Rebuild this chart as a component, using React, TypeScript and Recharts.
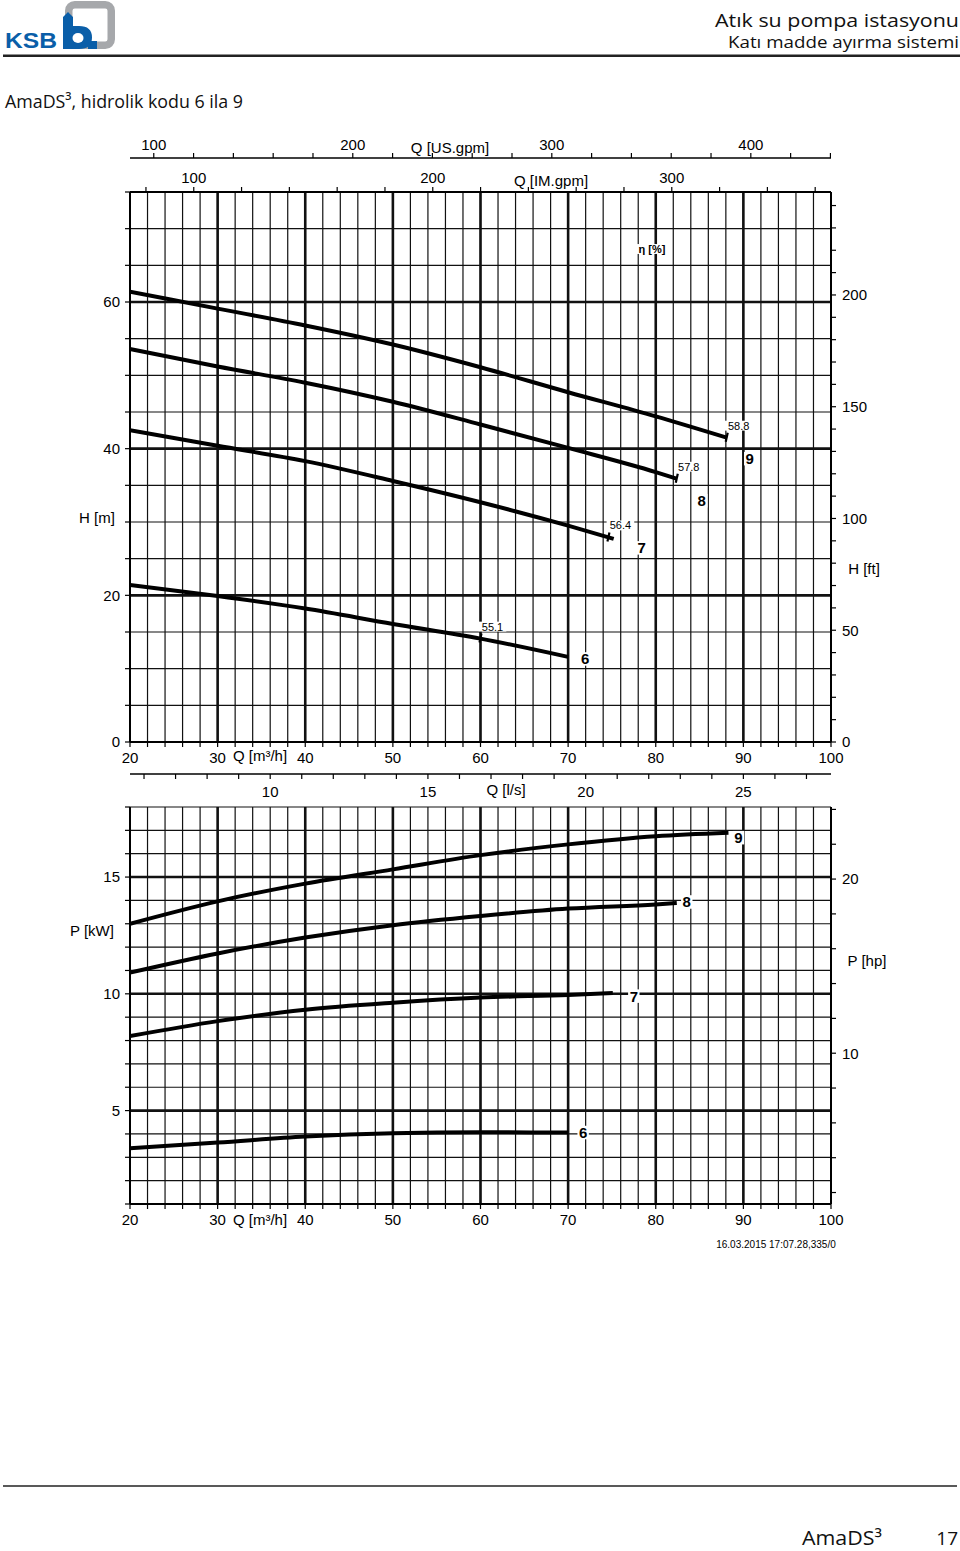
import React from 'react';
import {
  ComposedChart, Line, XAxis, YAxis, CartesianGrid, ReferenceDot,
} from 'recharts';

const FONT = '"Liberation Sans", Arial, sans-serif';
const HEAD_FONT = '"Open Sans", "Noto Sans", sans-serif';
const INK = '#111';

// unit factors against m³/h, m and kW
const US_GPM = 4.40287;
const IM_GPM = 3.66615;
const LS = 1 / 3.6;
const FT = 1 / 0.3048;
const HP = 1 / 0.7457;

// hydraulic codes
const CODES = ['6', '7', '8', '9'];

// Q-H curves, Q [m³/h] / H [m]
const H6_Q = [20, 30, 40, 50, 60, 70];
const H6 = [21.4, 19.9, 18.2, 16.1, 14.1, 11.6];
const H7_Q = [20, 30, 40, 50, 60, 70, 75.2];
const H7 = [42.5, 40.4, 38.3, 35.6, 32.7, 29.5, 27.7];
const H8_Q = [20, 30, 40, 50, 60, 70, 80, 82.4];
const H8 = [53.6, 51.2, 49.0, 46.4, 43.3, 40.1, 36.8, 35.9];
const H9_Q = [20, 30, 40, 50, 60, 70, 80, 88.1];
const H9 = [61.4, 59.1, 56.8, 54.2, 51.1, 47.7, 44.4, 41.5];

// efficiency marks on the Q-H curves
const ETA = ['55.1', '56.4', '57.8', '58.8'];
const ETA_Q = [60, 74.6, 82.4, 88.1];
const ETA_H = [14.1, 27.9, 35.9, 41.5];

// Q-P curves, Q [m³/h] / P [kW]
const P6_Q = [20, 30, 40, 50, 60, 70];
const P6 = [3.39, 3.63, 3.89, 4.03, 4.07, 4.06];
const P7_Q = [20, 30, 40, 50, 60, 70, 75.1];
const P7 = [8.19, 8.83, 9.32, 9.62, 9.84, 9.95, 10.03];
const P8_Q = [20, 30, 40, 50, 60, 70, 80, 82.4];
const P8 = [10.91, 11.73, 12.41, 12.94, 13.33, 13.65, 13.83, 13.89];
const P9_Q = [20, 30, 40, 50, 60, 70, 80, 88.3];
const P9 = [13.0, 13.96, 14.72, 15.33, 15.94, 16.4, 16.75, 16.9];

// tick labels
const Q_LABELS = [20, 30, 40, 50, 60, 70, 80, 90, 100];
const US_LABELS = [100, 200, 300, 400];
const IM_LABELS = [100, 200, 300];
const LS_LABELS = [10, 15, 20, 25];
const H_LABELS = [0, 20, 40, 60];
const FT_LABELS = [0, 50, 100, 150, 200];
const P_LABELS = [5, 10, 15];
const HP_LABELS = [10, 20];

const range = (a: number, b: number, s: number) => {
  const out: number[] = [];
  for (let v = a; v <= b + 1e-9; v += s) out.push(+v.toFixed(3));
  return out;
};

const Q_TICKS = range(20, 100, 2);
const US_TICKS = range(100, 440, 20);
const IM_TICKS = range(80, 360, 20);
const LS_TICKS = range(6, 27, 1);
const H_TICKS = range(0, 75, 5);
const FT_TICKS = range(0, 240, 10);
const P_TICKS = range(1, 18, 1);
const HP_TICKS = range(2, 24, 2);

const pts = (q: number[], v: number[]) => q.map((x, i) => ({ q: x, v: v[i] }));
const H_SERIES = [pts(H6_Q, H6), pts(H7_Q, H7), pts(H8_Q, H8), pts(H9_Q, H9)];
const P_SERIES = [pts(P6_Q, P6), pts(P7_Q, P7), pts(P8_Q, P8), pts(P9_Q, P9)];

// pixel offset of the code tag from the curve end
const H_TAG_OFF = [[17, 2], [28, 9], [25, 22], [23, 21]];
const P_TAG_OFF = [[15, 0], [21, 3], [10, -1], [10, 5]];

const fmt = (labels: number[]) => (v: number) => (labels.includes(v) ? String(v) : '');
const tickStyle = { fill: '#000', fontSize: 15, fontFamily: FONT };
const axisLine = { stroke: '#000', strokeWidth: 2 };
const thinAxis = { stroke: '#000', strokeWidth: 1.4 };
const tickLine = { stroke: '#000', strokeWidth: 1.2 };

const Tag = ({ cx, cy, text, dx, dy, size, bold }: any) => {
  const w = text.length * size * 0.56 + 3;
  const h = size * 0.9;
  const x = cx + dx;
  const y = cy + dy;
  return (
    <g>
      <rect x={x - w / 2} y={y - h / 2} width={w} height={h} fill="#fff" />
      <text x={x} y={y} textAnchor="middle" dominantBaseline="central" fontSize={size}
        fontWeight={bold ? 700 : 400} fontFamily={FONT} fill="#000">{text}</text>
    </g>
  );
};

const EtaMark = ({ cx, cy, text }: any) => (
  <g>
    <line x1={cx + 1} y1={cy - 5} x2={cx - 1} y2={cy + 4} stroke="#000" strokeWidth={2.2} />
    <Tag cx={cx} cy={cy} text={text} dx={12} dy={-12} size={11} />
  </g>
);

// axis ids sort so that the first one sits next to the plot
function HeadChart() {
  return (
    <ComposedChart width={960} height={680} margin={{ top: 10, right: 0, bottom: 1, left: 0 }}>
      <CartesianGrid xAxisId="b1_q" yAxisId="h" stroke={INK} strokeWidth={1.2} />
      <CartesianGrid xAxisId="b1_q" yAxisId="h" stroke={INK} strokeWidth={2.6}
        verticalValues={[30, 40, 50, 60, 70, 80, 90]} horizontalValues={[20, 40, 60]} />
      <XAxis xAxisId="t1_im" orientation="top" type="number" dataKey="q" domain={[20 * IM_GPM, 100 * IM_GPM]}
        allowDataOverflow ticks={IM_TICKS} interval={0} height={34} tickSize={5} tickMargin={4}
        tickFormatter={fmt(IM_LABELS)} tick={tickStyle} axisLine={axisLine} tickLine={tickLine} />
      <XAxis xAxisId="t2_us" orientation="top" type="number" dataKey="q" domain={[20 * US_GPM, 100 * US_GPM]}
        allowDataOverflow ticks={US_TICKS} interval={0} height={28} tickSize={5} tickMargin={3}
        tickFormatter={fmt(US_LABELS)} tick={tickStyle} axisLine={thinAxis} tickLine={tickLine} />
      <XAxis xAxisId="b1_q" orientation="bottom" type="number" dataKey="q" domain={[20, 100]}
        allowDataOverflow ticks={Q_TICKS} interval={0} height={32} tickSize={5} tickMargin={5}
        tickFormatter={fmt(Q_LABELS)} tick={tickStyle} axisLine={axisLine} tickLine={tickLine} />
      <XAxis xAxisId="b2_ls" orientation="bottom" type="number" dataKey="q" domain={[20 * LS, 100 * LS]}
        allowDataOverflow ticks={LS_TICKS} interval={0} height={25} tickSize={5} tickMargin={7}
        tickFormatter={fmt(LS_LABELS)} tick={tickStyle} axisLine={thinAxis} tickLine={tickLine} />
      <YAxis yAxisId="h" orientation="left" type="number" domain={[0, 75]} allowDataOverflow
        ticks={H_TICKS} interval={0} width={130} tickSize={5} tickMargin={5}
        tickFormatter={fmt(H_LABELS)} tick={tickStyle} axisLine={axisLine} tickLine={tickLine} />
      <YAxis yAxisId="ft" orientation="right" type="number" domain={[0, 75 * FT]} allowDataOverflow
        ticks={FT_TICKS} interval={0} width={129} tickSize={5} tickMargin={6}
        tickFormatter={fmt(FT_LABELS)} tick={{ ...tickStyle, textAnchor: 'start' }} axisLine={axisLine} tickLine={tickLine} />
      {H_SERIES.map((d, i) => (
        <Line key={CODES[i]} data={d} dataKey="v" xAxisId="b1_q" yAxisId="h" type="monotone"
          stroke="#000" strokeWidth={4} dot={false} isAnimationActive={false} />
      ))}
      {ETA.map((t, i) => (
        <ReferenceDot key={t} xAxisId="b1_q" yAxisId="h" x={ETA_Q[i]} y={ETA_H[i]} r={0} ifOverflow="visible"
          shape={(p: any) => <EtaMark cx={p.cx} cy={p.cy} text={t} />} />
      ))}
      {H_SERIES.map((d, i) => {
        const end = d[d.length - 1];
        return (
          <ReferenceDot key={'t' + i} xAxisId="b1_q" yAxisId="h" x={end.q} y={end.v} r={0} ifOverflow="visible"
            shape={(p: any) => <Tag cx={p.cx} cy={p.cy} text={CODES[i]} dx={H_TAG_OFF[i][0]} dy={H_TAG_OFF[i][1]} size={15} bold />} />
        );
      })}
    </ComposedChart>
  );
}

function PowerChart() {
  return (
    <ComposedChart width={960} height={440} margin={{ top: 7, right: 0, bottom: 4, left: 0 }}>
      <CartesianGrid xAxisId="q" yAxisId="p" stroke={INK} strokeWidth={1.2} />
      <CartesianGrid xAxisId="q" yAxisId="p" stroke={INK} strokeWidth={2.6}
        verticalValues={[30, 40, 50, 60, 70, 80, 90]} horizontalValues={[5, 10, 15]} />
      <XAxis xAxisId="q" orientation="bottom" type="number" dataKey="q" domain={[20, 100]}
        allowDataOverflow ticks={Q_TICKS} interval={0} height={32} tickSize={5} tickMargin={5}
        tickFormatter={fmt(Q_LABELS)} tick={tickStyle} axisLine={axisLine} tickLine={tickLine} />
      <YAxis yAxisId="p" orientation="left" type="number" domain={[1, 18]} allowDataOverflow
        ticks={P_TICKS} interval={0} width={130} tickSize={5} tickMargin={5}
        tickFormatter={fmt(P_LABELS)} tick={tickStyle} axisLine={axisLine} tickLine={tickLine} />
      <YAxis yAxisId="hp" orientation="right" type="number" domain={[1 * HP, 18 * HP]} allowDataOverflow
        ticks={HP_TICKS} interval={0} width={129} tickSize={5} tickMargin={6}
        tickFormatter={fmt(HP_LABELS)} tick={{ ...tickStyle, textAnchor: 'start' }} axisLine={axisLine} tickLine={tickLine} />
      {P_SERIES.map((d, i) => (
        <Line key={CODES[i]} data={d} dataKey="v" xAxisId="q" yAxisId="p" type="monotone"
          stroke="#000" strokeWidth={4} dot={false} isAnimationActive={false} />
      ))}
      {P_SERIES.map((d, i) => {
        const end = d[d.length - 1];
        return (
          <ReferenceDot key={'t' + i} xAxisId="q" yAxisId="p" x={end.q} y={end.v} r={0} ifOverflow="visible"
            shape={(p: any) => <Tag cx={p.cx} cy={p.cy} text={CODES[i]} dx={P_TAG_OFF[i][0]} dy={P_TAG_OFF[i][1]} size={15} bold />} />
        );
      })}
    </ComposedChart>
  );
}

const T = ({ x, y, children, size = 15, anchor = 'middle', weight = 400, family = FONT, fill = '#000' }: any) => (
  <text x={x} y={y} fontSize={size} textAnchor={anchor} fontWeight={weight} fontFamily={family} fill={fill}
    dominantBaseline="central">{children}</text>
);

export default function App() {
  return (
    <div style={{ position: 'absolute', left: 0, top: 0, width: 960, height: 1551, background: '#fff', overflow: 'hidden' }}>
      <div style={{ position: 'absolute', left: 0, top: 120 }}>
        <HeadChart />
      </div>
      <div style={{ position: 'absolute', left: 0, top: 800 }}>
        <PowerChart />
      </div>
      <svg width={960} height={1551} style={{ position: 'absolute', left: 0, top: 0, pointerEvents: 'none' }}>
        {/* logo */}
        <rect x={68.75} y={4.75} width={42.5} height={40.5} rx={6} fill="none" stroke="#a6a8ab" strokeWidth={7.5} />
        <path d="M63 49 L63 17 L68 12 L73 17 L73 26 L79 26 Q92 26 92 37.5 Q92 49 79 49 Z" fill="#0a5ea8" />
        <ellipse cx={78} cy={38} rx={5.5} ry={5} fill="#fff" />
        <rect x={88} y={41} width={9} height={8} fill="#0a5ea8" />
        <text x={5} y={48} fontSize={22} fontWeight={700} fontFamily={FONT} fill="#0a5ea8"
          textLength={52} lengthAdjust="spacingAndGlyphs">KSB</text>
        <line x1={3} y1={55.7} x2={960} y2={55.7} stroke="#222" strokeWidth={2.5} />
        <text x={959} y={27} fontSize={18.5} textAnchor="end" fontFamily={HEAD_FONT} fill="#111"
          textLength={244} lengthAdjust="spacingAndGlyphs">Atık su pompa istasyonu</text>
        <text x={959} y={47.5} fontSize={16.5} textAnchor="end" fontFamily={HEAD_FONT} fill="#111"
          textLength={231} lengthAdjust="spacingAndGlyphs">Katı madde ayırma sistemi</text>
        <text x={5} y={108} fontSize={18.5} fontFamily={HEAD_FONT} fill="#111"
          textLength={238} lengthAdjust="spacingAndGlyphs">AmaDS³, hidrolik kodu 6 ila 9</text>

        {/* axis titles */}
        <T x={450} y={147}>Q [US.gpm]</T>
        <T x={551} y={180}>Q [IM.gpm]</T>
        <Tag cx={652} cy={249} dx={0} dy={0} text="η [%]" size={11} bold />
        <T x={97} y={517}>H [m]</T>
        <T x={864} y={568}>H [ft]</T>
        <T x={260} y={755}>Q [m³/h]</T>
        <T x={506} y={789}>Q [l/s]</T>
        <T x={92} y={930}>P [kW]</T>
        <T x={867} y={960}>P [hp]</T>
        <T x={260} y={1219}>Q [m³/h]</T>
        <T x={776} y={1244} size={10}>16.03.2015 17:07.28,335/0</T>

        {/* footer */}
        <line x1={3} y1={1486} x2={957} y2={1486} stroke="#222" strokeWidth={1.5} />
        <text x={802} y={1545} fontSize={20} fontFamily={HEAD_FONT} fill="#111"
          textLength={80} lengthAdjust="spacingAndGlyphs">AmaDS³</text>
        <text x={958} y={1545} fontSize={19} textAnchor="end" fontFamily={HEAD_FONT} fill="#111">17</text>
      </svg>
    </div>
  );
}
